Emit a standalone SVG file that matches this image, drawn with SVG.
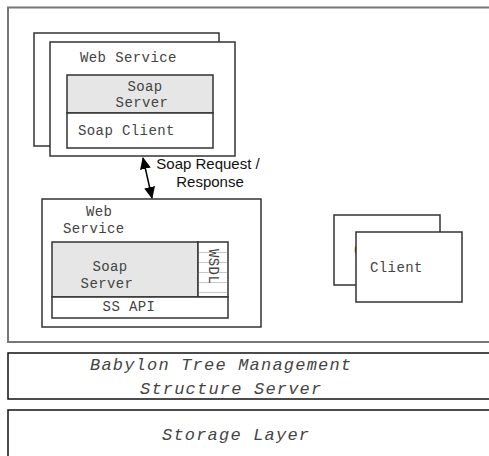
<svg xmlns="http://www.w3.org/2000/svg" width="489" height="456" viewBox="0 0 489 456">
  <style>
    .mono { font-family: "Liberation Mono", "Courier New", monospace; font-size: 14px; fill: #444; letter-spacing: 0.4px; }
    .layer { font-family: "Liberation Mono", "Courier New", monospace; font-size: 17px; font-style: italic; fill: #444; letter-spacing: 1.2px; }
    .sans { font-family: "Liberation Sans", Arial, sans-serif; font-size: 15px; fill: #111; }
    .box { fill: #fff; stroke: #333; stroke-width: 1.5; }
    .gray { fill: #e6e6e6; stroke: #333; stroke-width: 1.5; }
    .rule { stroke: #c8c8c8; stroke-width: 1; }
  </style>
  <defs>
    <marker id="head" viewBox="0 0 12 11" refX="11" refY="5.5" markerWidth="12" markerHeight="11" markerUnits="userSpaceOnUse" orient="auto-start-reverse">
      <path d="M0,0 L12,5.5 L0,11 z" fill="#000"/>
    </marker>
  </defs>

  <!-- application tier frame -->
  <g id="app-tier">
    <rect x="8" y="7.5" width="500" height="334.5" fill="#fff" stroke="#777" stroke-width="2"/>
  </g>

  <!-- upper web service (stacked) -->
  <g id="web-service-top">
    <rect class="box" x="34" y="33" width="185" height="113"/>
    <rect class="box" x="50" y="42" width="185" height="114"/>
    <text class="mono" x="80" y="62">Web Service</text>
    <rect class="gray" x="67" y="75" width="146" height="38"/>
    <text class="mono" x="145" y="91" text-anchor="middle">Soap</text>
    <text class="mono" x="142" y="107" text-anchor="middle">Server</text>
    <rect class="box" x="67" y="113" width="146" height="35"/>
    <text class="mono" x="78" y="135">Soap Client</text>
  </g>

  <!-- lower web service -->
  <g id="web-service-bottom">
    <rect class="box" x="42" y="199" width="219" height="128"/>
    <text class="mono" x="86" y="216">Web</text>
    <text class="mono" x="63" y="233">Service</text>
    <rect class="gray" x="52" y="242" width="146" height="55"/>
    <text class="mono" x="110" y="271" text-anchor="middle">Soap</text>
    <text class="mono" x="107" y="288" text-anchor="middle">Server</text>
    <rect class="box" x="198" y="242" width="30" height="55"/>
    <line class="rule" x1="199" y1="252.5" x2="227" y2="252.5"/>
    <line class="rule" x1="199" y1="262.5" x2="227" y2="262.5"/>
    <line class="rule" x1="199" y1="272.5" x2="227" y2="272.5"/>
    <line class="rule" x1="199" y1="282.5" x2="227" y2="282.5"/>
    <line class="rule" x1="199" y1="292.5" x2="227" y2="292.5"/>
    <text class="mono" x="0" y="0" transform="translate(209,249) rotate(90)">WSDL</text>
    <rect class="box" x="52" y="297" width="176" height="21"/>
    <text class="mono" x="129" y="311" text-anchor="middle">SS API</text>
  </g>

  <!-- clients (stacked) -->
  <g id="client">
    <rect class="box" x="334" y="215" width="106" height="70"/>
    <text class="mono" x="354" y="255">Client</text>
    <rect class="box" x="356" y="232" width="106" height="70"/>
    <text class="mono" x="370" y="272">Client</text>
  </g>

  <!-- server layers -->
  <g id="tree-server">
    <rect x="8" y="353" width="500" height="46" fill="#fff" stroke="#111" stroke-width="1.5"/>
    <text class="layer" x="90" y="370">Babylon Tree Management</text>
    <text class="layer" x="140" y="394">Structure Server</text>
  </g>
  <g id="storage-layer">
    <rect x="8" y="410" width="500" height="60" fill="#fff" stroke="#111" stroke-width="1.5"/>
    <text class="layer" x="162" y="440">Storage Layer</text>
  </g>

  <!-- connectors -->
  <g id="connectors">
    <line x1="143" y1="158" x2="152" y2="198" stroke="#000" stroke-width="1.5" marker-start="url(#head)" marker-end="url(#head)"/>
    <text class="sans" x="208" y="169" text-anchor="middle">Soap Request /</text>
    <text class="sans" x="210" y="187" text-anchor="middle">Response</text>
  </g>
</svg>
